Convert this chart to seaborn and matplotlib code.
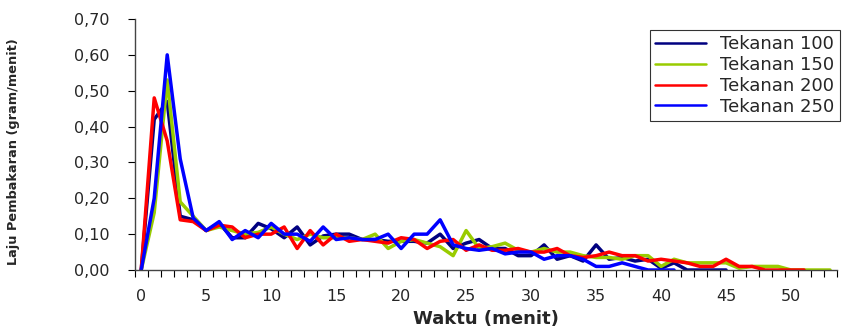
import pandas as pd
import seaborn as sns
import matplotlib
matplotlib.use('Agg')
import matplotlib.pyplot as plt
from matplotlib.ticker import FuncFormatter, MultipleLocator, FixedLocator

# laju pembakaran (gram/menit) tiap menit
tekanan_100 = [0, 0.42, 0.47, 0.15, 0.14, 0.11, 0.13, 0.09, 0.09, 0.13,
               0.115, 0.09, 0.12, 0.07, 0.095, 0.10, 0.10, 0.085, 0.085, 0.08,
               0.08, 0.08, 0.075, 0.10, 0.06, 0.075, 0.085, 0.06, 0.06, 0.04,
               0.04, 0.07, 0.03, 0.04, 0.025, 0.07, 0.03, 0.035, 0.025, 0.03,
               0.005, 0.02, 0, 0, 0, 0]
tekanan_150 = [0, 0.16, 0.53, 0.19, 0.15, 0.11, 0.12, 0.11, 0.10, 0.105,
               0.12, 0.10, 0.085, 0.10, 0.09, 0.09, 0.09, 0.085, 0.10, 0.06,
               0.08, 0.085, 0.075, 0.065, 0.04, 0.11, 0.06, 0.065, 0.075, 0.055,
               0.05, 0.06, 0.05, 0.05, 0.04, 0.035, 0.035, 0.03, 0.04, 0.04,
               0.01, 0.03, 0.02, 0.02, 0.02, 0.02, 0.005, 0.01, 0.01, 0.01,
               0, 0, 0, 0]
tekanan_200 = [0, 0.48, 0.36, 0.14, 0.135, 0.11, 0.125, 0.12, 0.09, 0.10,
               0.10, 0.12, 0.06, 0.11, 0.07, 0.10, 0.08, 0.085, 0.08, 0.075,
               0.09, 0.085, 0.06, 0.08, 0.085, 0.055, 0.07, 0.055, 0.055, 0.06,
               0.05, 0.05, 0.06, 0.04, 0.035, 0.04, 0.05, 0.04, 0.04, 0.025,
               0.03, 0.025, 0.02, 0.01, 0.01, 0.03, 0.01, 0.01, 0, 0,
               0, 0]
tekanan_250 = [0, 0.20, 0.60, 0.31, 0.145, 0.11, 0.135, 0.085, 0.11, 0.09,
               0.13, 0.10, 0.10, 0.08, 0.12, 0.085, 0.09, 0.085, 0.085, 0.10,
               0.06, 0.10, 0.10, 0.14, 0.07, 0.06, 0.055, 0.06, 0.045, 0.05,
               0.05, 0.03, 0.04, 0.04, 0.03, 0.01, 0.01, 0.02, 0.01, 0,
               0, 0]

labels = ['Tekanan 100', 'Tekanan 150', 'Tekanan 200', 'Tekanan 250']
colors = ['#000080', '#99CC00', '#FF0000', '#0000FF']
series = [tekanan_100, tekanan_150, tekanan_200, tekanan_250]

rows = []
for lab, vals in zip(labels, series):
    for t, v in enumerate(vals):
        rows.append({'Waktu': t, 'Laju': v, 'Tekanan': lab})
df = pd.DataFrame(rows)

sns.set_style('white')
plt.rcParams['font.family'] = ['DejaVu Sans']

fig = plt.figure(figsize=(8.42, 3.36), dpi=100)
ax = fig.add_axes([0.16, 0.1964, 0.8335, 0.7471])

sns.lineplot(data=df, x='Waktu', y='Laju', hue='Tekanan', hue_order=labels,
             palette=dict(zip(labels, colors)), linewidth=2.5, ax=ax)

ax.set_xlim(-0.5, 53.5)
ax.set_ylim(0, 0.70)

ax.yaxis.set_major_locator(MultipleLocator(0.1))
ax.yaxis.set_major_formatter(FuncFormatter(lambda v, p: f'{v:.2f}'.replace('.', ',')))
ax.tick_params(axis='y', direction='out', length=5, width=0.8, color='black',
               labelsize=11.5, pad=13, left=True)

ax.xaxis.set_major_locator(FixedLocator(range(0, 51, 5)))
ax.xaxis.set_minor_locator(FixedLocator([i - 0.5 for i in range(0, 55)]))
ax.tick_params(axis='x', which='major', length=0, labelsize=11.5, pad=14)
ax.tick_params(axis='x', which='minor', direction='out', length=5, width=0.8,
               color='black', bottom=True)

for s in ['top', 'right']:
    ax.spines[s].set_visible(False)
for s in ['left', 'bottom']:
    ax.spines[s].set_color('#444444')
    ax.spines[s].set_linewidth(1.0)

ax.set_xlabel('Waktu (menit)', fontsize=13, fontweight='bold', labelpad=4)
ax.set_ylabel('Laju Pembakaran (gram/menit)', fontsize=9.3, fontweight='bold')
ax.yaxis.set_label_coords(-0.163, 0.47)

leg = ax.legend(loc='upper right', bbox_to_anchor=(1.005, 0.956), borderaxespad=0,
                fontsize=13, frameon=True, fancybox=False, handlelength=2.8,
                labelspacing=0.15, borderpad=0.3, handletextpad=0.8)
leg.get_frame().set_edgecolor('black')
leg.get_frame().set_linewidth(0.8)
for line in leg.get_lines():
    line.set_linewidth(1.8)

fig.savefig('out.png', dpi=100)
